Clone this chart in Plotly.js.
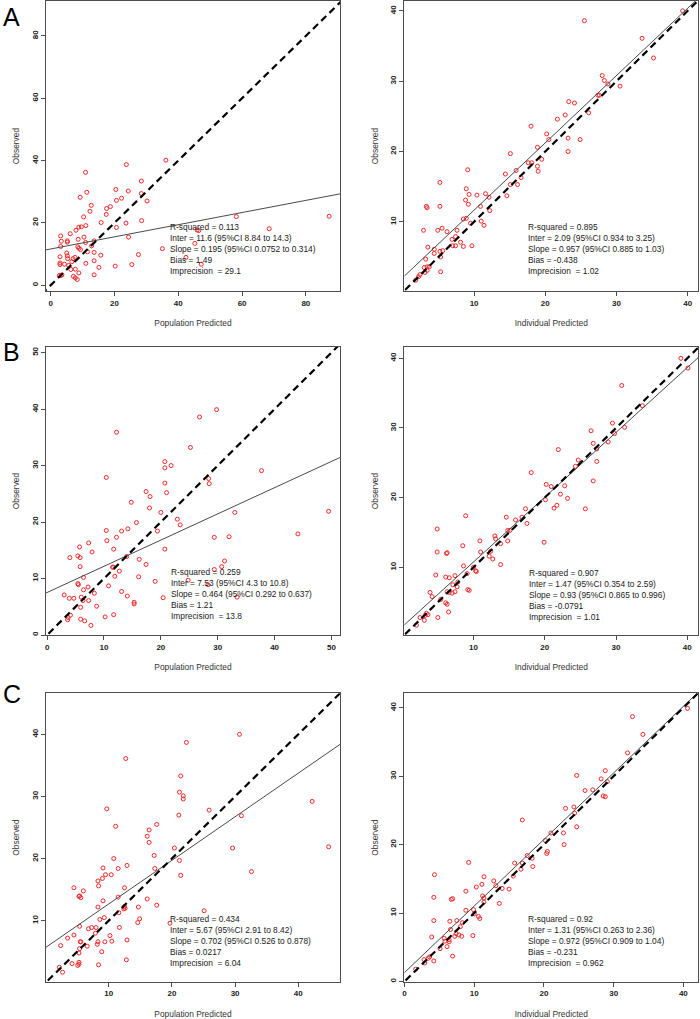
<!DOCTYPE html>
<html><head><meta charset="utf-8">
<script src="https://cdn.plot.ly/plotly-3.0.1.min.js"></script>
<style>html,body{margin:0;padding:0;background:#fff}#chart{width:700px;height:1019px}</style>
</head><body><div id="chart"></div>
<script>
// ---- Panel A ----
const aPopX = [36.1,23.7,10.9,28.4,11.3,20.4,24.3,28.4,30.2,22.2,20.6,9.2,12.7,18.7,17.5,12.3,17.4,10.3,15.8,28.5,23.6,8.8,9.6,11.0,7.9,20.6,6.1,3.1,24.4,10.4,8.6,3.3,5.2,5.2,13.6,10.9,3.1,12.8,8.5,8.8,9.3,11.5,13.6,5.0,15.7,27.5,2.9,5.2,7.6,7.0,5.3,13.6,4.3,2.9,5.6,11.0,25.4,20.2,6.3,7.7,15.1,8.8,13.6,3.2,2.7,7.1,7.7,8.3,87.3,68.5,58.2,45.9,46.4,45.2,35.0,42.4,47.2,2.9,3.5,6.6];
const aPopY = [40.1,38.7,36.2,33.4,29.8,30.7,30.2,29.4,27.0,27.9,27.2,28.2,25.6,25.2,24.6,23.7,22.7,21.9,20.1,20.7,19.9,18.6,18.7,19.1,17.6,18.5,16.5,15.8,15.4,15.4,14.7,14.1,14.2,13.8,14.2,13.7,12.4,12.6,12.3,11.8,11.4,10.7,10.5,10.3,9.6,9.8,9.1,9.4,8.9,8.5,8.5,7.8,6.7,6.6,6.3,7.0,6.6,6.1,5.0,5.1,5.7,3.9,3.3,3.1,3.1,2.8,2.3,1.8,22.1,18.1,22.0,17.7,17.5,13.4,11.7,8.9,6.7,7.1,3.3,7.5];
const aIndX = [39.3,25.5,33.6,35.2,28.0,28.3,30.5,28.8,27.4,27.6,23.3,24.1,26.1,22.8,21.7,18.0,20.2,23.2,24.9,20.5,18.9,23.2,15.1,19.5,17.6,18.1,18.9,19.0,15.9,9.1,14.4,16.6,5.2,15.1,16.1,8.9,9.3,10.4,11.6,14.6,12.1,8.8,9.2,10.9,5.2,3.4,3.3,12.2,11.0,8.5,8.9,9.5,11.4,2.9,4.9,5.5,6.2,7.6,7.4,6.9,8.1,7.0,7.4,8.5,9.7,3.5,4.4,5.2,5.6,4.4,5.3,3.2,3.0,3.4,3.7,3.4,5.3,2.4,2.2,1.8,3.1];
const aIndY = [40.0,38.6,36.1,33.3,30.8,30.1,29.3,29.6,28.0,28.0,27.1,26.9,25.5,25.2,24.6,23.6,22.5,21.9,21.7,21.7,20.6,20.0,19.7,18.9,18.4,18.4,17.9,17.2,17.3,17.4,16.8,16.3,15.6,15.3,15.3,14.7,13.9,13.8,14.0,13.7,13.5,13.1,12.5,12.2,12.2,12.0,12.2,11.6,10.1,10.4,10.5,9.8,9.5,8.8,8.8,9.1,8.6,8.8,7.9,7.5,7.1,6.6,6.6,6.5,6.6,6.4,6.1,5.8,5.9,5.5,5.0,4.7,3.5,3.6,3.6,3.1,2.9,2.5,2.2,1.7,2.8];
// ---- Panel B ----
const bPopX = [29.8,26.8,12.2,25.2,20.7,20.7,21.8,37.7,10.4,20.7,21.0,28.4,28.5,17.4,18.1,14.8,18.0,20.0,33.0,49.5,22.9,23.4,15.7,14.2,13.1,10.4,19.4,44.1,29.4,32.0,12.2,10.5,7.3,5.7,7.9,11.7,20.7,4.0,5.4,5.8,14.0,16.2,31.2,5.8,17.4,11.5,11.7,30.7,12.7,29.4,11.9,16.1,6.4,24.8,19.0,5.4,5.5,7.2,10.8,6.4,8.3,13.1,14.1,3.0,3.9,4.7,6.0,6.3,7.3,20.4,33.4,5.9,8.7,15.3,15.3,4.1,3.7,3.6,10.2,11.7,5.9,6.6,7.7,28.3];
const bPopY = [39.9,38.6,35.9,33.2,30.7,29.6,30.0,29.1,27.9,26.9,25.2,27.7,26.8,25.4,24.5,23.5,22.5,21.7,21.7,21.9,20.5,19.5,19.9,18.8,18.4,18.5,18.4,17.9,17.3,17.4,17.3,16.7,16.3,15.6,14.7,15.2,15.2,13.7,14.0,13.7,13.9,13.4,13.1,12.1,12.5,12.0,12.0,12.1,11.3,11.6,10.4,10.3,10.2,9.7,9.5,9.1,8.9,8.5,8.7,8.0,7.4,7.7,6.9,7.1,6.5,6.5,6.7,6.1,6.1,6.6,6.7,4.9,5.1,5.8,5.5,3.5,3.1,2.7,3.2,3.6,2.8,2.5,1.7,8.9];
const bIndX = [39.1,40.1,30.8,33.7,29.5,26.5,29.8,31.2,26.8,28.9,27.3,21.9,24.7,24.3,27.3,18.1,26.8,20.2,20.9,22.8,22.2,23.2,20.1,21.7,21.3,25.7,17.3,14.6,16.8,15.9,17.5,8.9,4.9,14.8,15.1,13.0,13.1,14.8,13.8,10.9,19.9,8.5,4.9,6.2,6.3,11.0,12.4,12.2,12.7,8.6,13.8,10.0,10.3,10.4,9.1,4.7,6.1,6.6,7.4,7.8,7.1,7.7,9.2,9.4,7.4,7.0,6.3,6.6,3.9,4.2,5.4,6.1,6.3,6.5,5.0,3.4,3.6,3.2,2.5,3.1,2.0];
const bIndY = [40.0,38.6,36.1,33.2,30.7,29.6,29.2,30.1,27.8,28.0,27.0,26.9,25.4,24.5,25.2,23.6,22.4,21.9,21.6,21.7,20.5,19.9,19.7,18.9,18.5,18.4,18.4,17.2,17.2,16.8,16.3,17.4,15.5,15.3,15.3,14.5,14.1,13.8,13.4,13.8,13.6,13.1,12.2,12.0,12.1,12.2,12.3,11.6,11.2,10.2,10.4,10.0,9.5,9.4,9.1,8.9,8.6,8.5,8.8,7.9,7.5,7.2,6.8,6.7,6.5,6.3,6.5,6.4,6.4,5.8,5.4,4.9,4.7,3.6,2.8,3.4,3.2,3.1,2.8,2.4,1.7];
// ---- Panel C ----
const cPopX = [30.7,22.3,12.7,21.4,21.2,21.8,21.8,42.2,9.7,25.9,21.1,31.0,11.1,17.6,16.4,16.1,16.4,29.6,20.4,44.8,17.2,10.8,21.2,17.3,12.9,9.1,11.5,9.5,10.4,21.4,32.6,9.0,8.3,8.4,4.5,12.5,6.0,5.4,5.6,5.3,11.5,16.1,9.1,17.6,8.3,14.7,12.5,12.6,12.4,11.6,25.1,14.9,14.6,9.3,8.6,19.7,5.4,11.7,8.0,7.3,6.8,7.9,4.5,10.2,3.5,12.9,10.5,9.4,8.3,8.2,5.5,5.6,6.6,2.4,5.4,5.3,8.9,12.8,5.3,5.3,5.1,4.2,8.4,2.2,2.7];
const cPopY = [40.0,38.7,36.1,33.3,30.7,30.1,29.6,29.2,28.0,27.8,27.0,26.9,25.2,25.5,24.6,23.6,22.6,21.7,21.7,21.9,20.5,20.0,19.7,18.4,18.9,18.5,18.4,17.4,17.4,17.3,17.9,16.8,16.4,15.6,15.3,15.3,14.8,14.0,13.7,13.9,13.8,13.5,13.2,12.5,12.2,12.2,12.3,12.0,11.9,11.3,11.6,10.3,9.7,10.5,10.2,9.6,9.1,8.9,8.9,8.9,8.7,8.0,7.7,7.6,7.2,6.9,6.7,6.6,6.6,6.2,6.6,6.6,5.9,6.0,5.5,4.8,5.0,3.7,3.3,3.0,2.8,3.1,2.9,2.5,1.7];
const cIndX = [40.6,32.7,34.2,32.0,24.7,28.8,28.2,29.1,25.9,27.0,28.5,28.8,23.1,24.3,24.4,16.9,24.7,22.8,21.0,20.2,22.9,20.5,20.4,18.3,17.6,18.4,15.8,16.9,16.7,9.2,4.3,15.6,11.4,12.8,11.1,10.3,13.1,14.0,15.0,8.8,4.2,6.9,6.7,11.2,11.4,11.4,13.6,8.8,9.9,10.0,10.6,10.8,4.2,6.5,7.5,8.3,8.0,6.6,7.4,7.2,7.8,8.2,9.8,3.9,5.7,5.8,6.4,6.4,6.1,5.1,6.9,4.2,3.6,3.4,2.8,2.9,1.6];
const cIndY = [39.9,38.7,36.1,33.4,30.1,30.8,29.6,29.2,27.9,28.0,27.1,27.0,25.3,25.5,24.6,23.6,22.6,21.7,21.7,20.6,20.0,19.0,18.7,18.0,18.4,16.8,17.3,17.3,16.4,17.4,15.6,15.4,15.3,14.7,14.2,13.8,14.0,13.6,13.5,13.2,12.3,12.1,12.0,12.5,12.2,11.6,11.4,10.4,10.5,9.9,9.5,9.2,8.9,8.8,8.9,8.6,8.0,7.6,7.0,6.6,6.8,6.6,6.7,6.5,6.3,5.9,6.1,5.8,5.1,4.8,3.7,3.0,3.6,3.4,3.2,2.7,1.8];

// ---- Fit statistics (panel order: A-pop, A-ind, B-pop, B-ind, C-pop, C-ind) ----
const rSquared    = ["0.113","0.895","0.259","0.907","0.434","0.92"];
const interEst    = ["11.6","2.09","7.53","1.47","5.67","1.31"];
const interLo     = ["8.84","0.934","4.3","0.354","2.91","0.263"];
const interHi     = ["14.3","3.25","10.8","2.59","8.42","2.36"];
const slopeEst    = ["0.195","0.957","0.464","0.93","0.702","0.972"];
const slopeLo     = ["0.0752","0.885","0.292","0.865","0.526","0.909"];
const slopeHi     = ["0.314","1.03","0.637","0.996","0.878","1.04"];
const biasVal     = ["1.49","-0.438","1.21","-0.0791","0.0217","-0.231"];
const imprecision = ["29.1","1.02","13.8","1.01","6.04","0.962"];
const xTitles = ["Population Predicted","Individual Predicted"];
const yTitle = "Observed";
const panelLetters = ["A","B","C"];

const seriesX = [aPopX,aIndX,bPopX,bIndX,cPopX,cIndX];
const seriesY = [aPopY,aIndY,bPopY,bIndY,cPopY,cIndY];

// ---- layout geometry ----
const colDom = [[0.0657,0.4857],[0.5776,0.9976]];
const rowDom = [[0.7144,0.999],[0.3765,0.6598],[0.0366,0.3196]];
const axRanges = [
  {x:[-1.5,90.7], y:[-1.9,91.2], dt:20},
  {x:[0.2,41.5],  y:[0.16,41.4], dt:10},
  {x:[-0.2,51.5], y:[-0.06,51.05], dt:10},
  {x:[0.29,41.55],y:[0.24,41.67], dt:10},
  {x:[0.08,46.6], y:[0.18,46.6], dt:10},
  {x:[-0.03,42.15],y:[-0.03,42.1], dt:10}
];
const statPos = [[0.240,0.7561],[0.751,0.7561],[0.241,0.4169],[0.7529,0.4159],[0.240,0.0768],[0.7519,0.0768]];
const letterY = [0.9995,0.6703,0.3345];

const FONT = "Liberation Sans, Arial, sans-serif";
const traces = [];
const layout = {
  width:700, height:1019, margin:{l:0,r:0,t:0,b:0},
  paper_bgcolor:'#fff', plot_bgcolor:'#fff', showlegend:false,
  font:{family:FONT, color:'#222'},
  annotations:[]
};

for (let i=0;i<6;i++){
  const n = i+1, sfx = n===1?'':String(n);
  const xa = 'x'+sfx, ya = 'y'+sfx;
  const row = Math.floor(i/2), col = i%2;
  const r = axRanges[i];
  traces.push({type:'scatter', mode:'markers', x:seriesX[i], y:seriesY[i], xaxis:xa, yaxis:ya,
    marker:{symbol:'circle-open', size:4, color:'#f02828', line:{width:1, color:'#f02828'}}, cliponaxis:true, hoverinfo:'x+y'});
  const b0 = parseFloat(interEst[i]), b1 = parseFloat(slopeEst[i]);
  traces.push({type:'scatter', mode:'lines', x:[r.x[0], r.x[1]], y:[b0+b1*r.x[0], b0+b1*r.x[1]], xaxis:xa, yaxis:ya,
    line:{color:'#4a4a4a', width:1}, hoverinfo:'skip'});
  const lo = Math.min(r.x[0], r.y[0]) - 1, hi = Math.max(r.x[1], r.y[1]) + 1;
  traces.push({type:'scatter', mode:'lines', x:[lo, hi], y:[lo, hi], xaxis:xa, yaxis:ya,
    line:{color:'#000', width:2.2, dash:'7px,4.5px'}, hoverinfo:'skip'});

  const common = {showgrid:false, zeroline:false, showline:true, mirror:true, linecolor:'#4d4d4d', linewidth:1,
    ticks:'outside', ticklen:4, tickwidth:1, tickcolor:'#4d4d4d', tick0:0, dtick:r.dt, automargin:false,
    tickfont:{family:FONT, size:8, color:'#222', weight:'bold'}};
  layout['xaxis'+sfx] = Object.assign({}, common, {domain:colDom[col], range:r.x, anchor:ya,
    title:{text:xTitles[col], font:{family:FONT, size:8.4, color:'#333'}, standoff:13}});
  layout['yaxis'+sfx] = Object.assign({}, common, {domain:rowDom[row], range:r.y, anchor:xa, tickangle:-90,
    title:{text:yTitle, font:{family:FONT, size:8.4, color:'#333'}, standoff:9}});

  const lines = [
    "R-squared = "+rSquared[i],
    "Inter = "+interEst[i]+" (95%CI "+interLo[i]+" to "+interHi[i]+")",
    "Slope = "+slopeEst[i]+" (95%CI "+slopeLo[i]+" to "+slopeHi[i]+")",
    "Bias = "+biasVal[i],
    "Imprecision \u00A0= "+imprecision[i]
  ];
  layout.annotations.push({xref:'paper', yref:'paper', x:statPos[i][0], y:statPos[i][1], xanchor:'left', yanchor:'middle',
    align:'left', showarrow:false, text:lines.join('<br>'), font:{family:FONT, size:8.4, color:'#222'}});
}
for (let k=0;k<3;k++){
  layout.annotations.push({xref:'paper', yref:'paper', x:0.002, y:letterY[k], xanchor:'left', yanchor:'top',
    showarrow:false, text:panelLetters[k], font:{family:"Liberation Sans Narrow, Liberation Sans, Arial, sans-serif", size:25, color:'#000'}});
}
Plotly.newPlot('chart', traces, layout, {staticPlot:true, displayModeBar:false});
</script>
</body></html>
